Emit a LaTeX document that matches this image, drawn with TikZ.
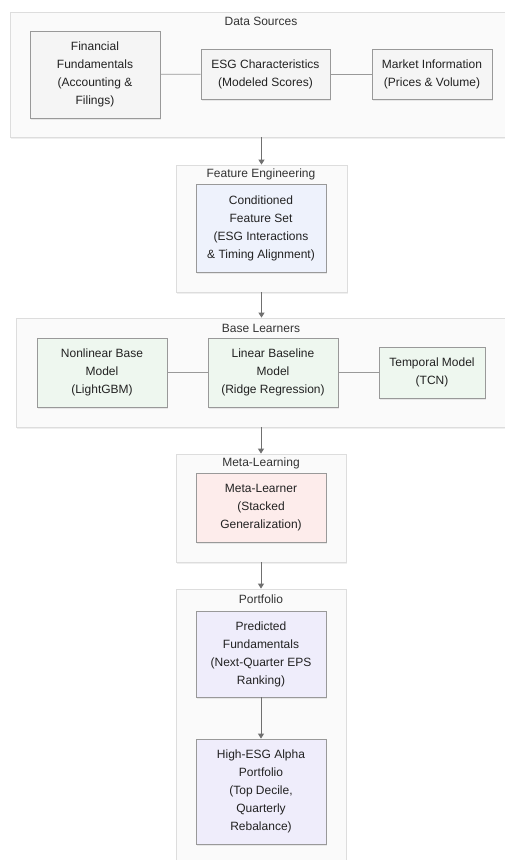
\documentclass[tikz,border=0pt]{standalone}
\usepackage{fontspec}
\setmainfont{Liberation Sans}
\usetikzlibrary{arrows.meta,shadows}

\definecolor{clfill}{HTML}{FAFAFA}
\definecolor{clline}{HTML}{DDDDDD}
\definecolor{boxline}{HTML}{999999}
\definecolor{srcfill}{HTML}{F5F5F5}
\definecolor{fefill}{HTML}{EEF2FC}
\definecolor{basefill}{HTML}{EEF7EF}
\definecolor{metafill}{HTML}{FDECEB}
\definecolor{pffill}{HTML}{EFEDFB}
\definecolor{txt}{HTML}{222222}
\definecolor{flowcol}{HTML}{707070}

\tikzset{
  cluster/.style={draw=clline, fill=clfill, line width=0.8pt, inner sep=0pt,
    drop shadow={opacity=0.12, shadow xshift=1pt, shadow yshift=-1.5pt}},
  box/.style={draw=boxline, line width=0.8pt, inner sep=0pt, align=center,
    font=\fontsize{12}{18}\selectfont, text=txt,
    drop shadow={opacity=0.15, shadow xshift=1pt, shadow yshift=-1.5pt}},
  srcbox/.style={box, fill=srcfill},
  febox/.style={box, fill=fefill},
  basebox/.style={box, fill=basefill},
  metabox/.style={box, fill=metafill},
  pfbox/.style={box, fill=pffill},
  title/.style={font=\fontsize{12}{14}\selectfont, text=black!80},
  flow/.style={draw=flowcol, line width=1pt, -{Triangle[width=6pt,length=5pt]}},
  link/.style={draw=boxline, line width=0.8pt}
}

\begin{document}
\begin{tikzpicture}[x=1pt,y=-1pt]
        \useasboundingbox[fill=white] (0,0) rectangle (504,860);

        \node[cluster, minimum width=502pt, minimum height=125pt] at (261, 74.5) (ds) {};
        \node[cluster, minimum width=171pt, minimum height=127pt] at (261.5, 228.5) (fe) {};
        \node[cluster, minimum width=490pt, minimum height=109pt] at (261, 372.5) (bl) {};
        \node[cluster, minimum width=170pt, minimum height=108pt] at (261, 508) (ml) {};
        \node[cluster, minimum width=170pt, minimum height=291pt] at (261, 734.5) (pf) {};

        \node[title] at (261, 21) (dstitle) {Data Sources};
        \node[title] at (261, 174) (fetitle) {Feature Engineering};
        \node[title] at (261, 328) (bltitle) {Base Learners};
        \node[title] at (261, 463) (mltitle) {Meta-Learning};
        \node[title] at (261, 599) (pftitle) {Portfolio};

        \node[srcbox, minimum width=130pt, minimum height=87pt] at (95, 74.5) (fin)
            {Financial\\Fundamentals\\(Accounting \&\\Filings)};
        \node[srcbox, minimum width=129pt, minimum height=50pt] at (265.5, 74) (esg)
            {ESG Characteristics\\(Modeled Scores)};
        \node[srcbox, minimum width=120pt, minimum height=50pt] at (432, 74) (mkt)
            {Market Information\\(Prices \& Volume)};

        \node[febox, minimum width=130pt, minimum height=88pt] at (261, 228) (cfs)
            {Conditioned\\Feature Set\\(ESG Interactions\\\& Timing Alignment)};

        \node[basebox, minimum width=130pt, minimum height=69pt] at (102, 372.5) (gbm)
            {Nonlinear Base\\Model\\(LightGBM)};
        \node[basebox, minimum width=130pt, minimum height=69pt] at (273, 372.5) (ridge)
            {Linear Baseline\\Model\\(Ridge Regression)};
        \node[basebox, minimum width=106pt, minimum height=51pt] at (432, 372.5) (tcn)
            {Temporal Model\\(TCN)};

        \node[metabox, minimum width=130pt, minimum height=69pt] at (261, 507.5) (meta)
            {Meta-Learner\\(Stacked\\Generalization)};

        \node[pfbox, minimum width=130pt, minimum height=86pt] at (261, 654) (pred)
            {Predicted\\Fundamentals\\(Next-Quarter EPS\\Ranking)};
        \node[pfbox, minimum width=130pt, minimum height=105pt] at (261, 791.5) (alpha)
            {High-ESG Alpha\\Portfolio\\(Top Decile,\\Quarterly\\Rebalance)};

        \draw[link] (fin) -- (esg);
        \draw[link] (esg) -- (mkt);
        \draw[link] (gbm) -- (ridge);
        \draw[link] (ridge) -- (tcn);

        \draw[flow] (ds.south -| fe.north) -- (fe.north);
        \draw[flow] (fe.south) -- (fe.south |- bl.north);
        \draw[flow] (bl.south -| ml.north) -- (ml.north);
        \draw[flow] (ml) -- (pf.north);
        \draw[flow] (pred) -- (alpha);

        \end{tikzpicture}
\end{document}
